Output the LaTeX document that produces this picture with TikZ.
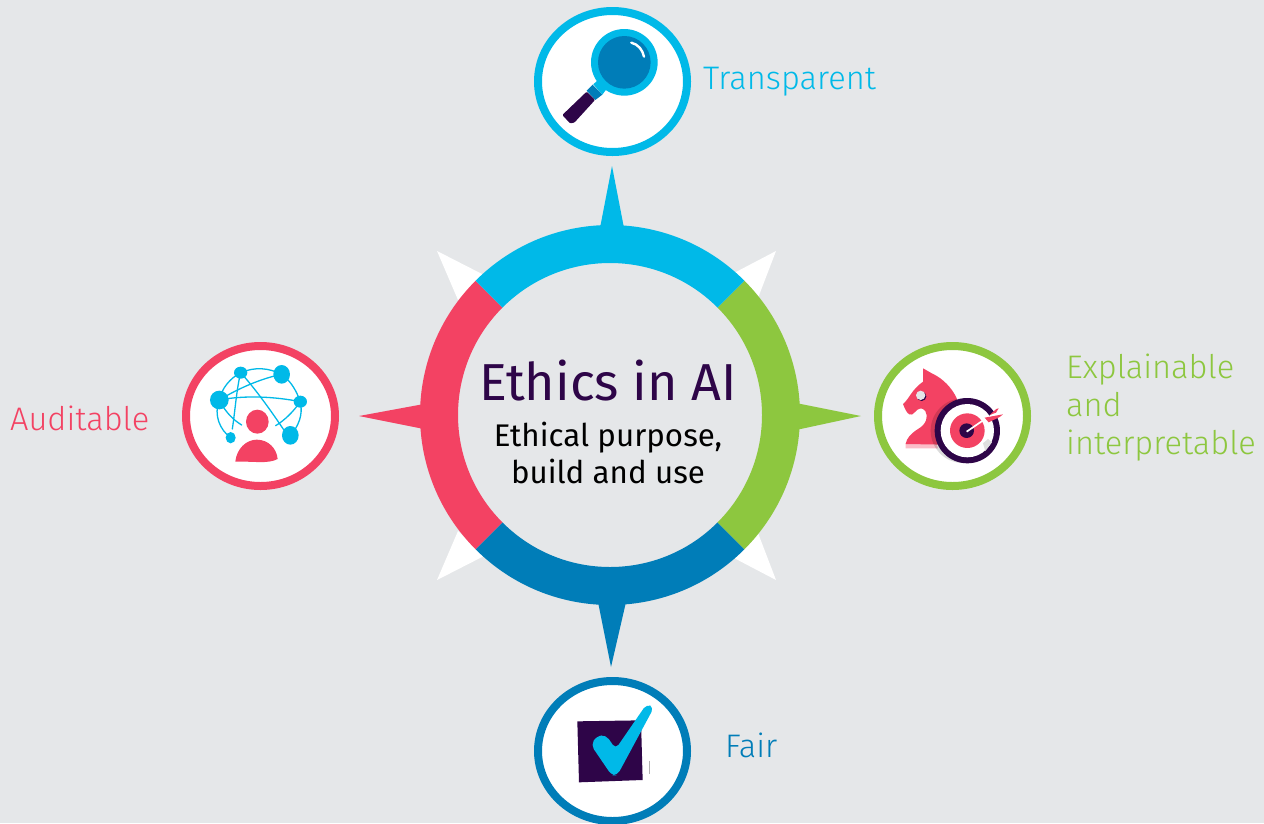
\documentclass[tikz,border=0pt]{standalone}
\usepackage{fontspec}
\setmainfont{Fira Sans}
\newfontfamily\lightf{Fira Sans Light}
\definecolor{bgc}{HTML}{E5E7E9}
\definecolor{cy}{HTML}{00B9E8}
\definecolor{pk}{HTML}{F34263}
\definecolor{gn}{HTML}{8DC73F}
\definecolor{bl}{HTML}{007DB8}
\definecolor{pu}{HTML}{2E0548}
\newcommand{\ringseg}[3]{\fill[#1,shift={(610,415)}] (#2:190) arc[start angle=#2,end angle=#3,radius=190] -- (#3:152) arc[start angle=#3,end angle=#2,radius=152] -- cycle;}
\tikzset{
  badge/.style={draw=#1,fill=white,line width=8pt},
  lab/.style={anchor=base west,inner sep=0pt,text=#1,font=\fontsize{32.6}{32.6}\selectfont\lightf},
  centertext/.style={anchor=base,inner sep=0pt,text=black,font=\fontsize{31.3}{31.3}\selectfont},
  net/.style={draw=cy,line width=1.3pt,line cap=round},
  whitespike/.style={fill=white}
}
\begin{document}
\begin{tikzpicture}[x=1pt,y=-1pt]
\useasboundingbox (0,0) rectangle (1264,823);
\fill[bgc] (0,0) rectangle (1264,823);
% white spikes
\fill[whitespike] (437,251) -- (484,275) -- (458,300) -- cycle;
\fill[whitespike] (776,251) -- (734,273) -- (758,298) -- cycle;
\fill[whitespike] (437,580) -- (484,556) -- (458,531) -- cycle;
\fill[whitespike] (776,580) -- (734,558) -- (758,533) -- cycle;
% coloured spikes
\fill[cy] (612,166) -- (600,228) -- (624,228) -- cycle;
\fill[bl] (611,667) -- (598,602) -- (626,602) -- cycle;
\fill[pk] (359,416) -- (424,404) -- (424,429) -- cycle;
\fill[gn] (861,416) -- (796,403) -- (796,430) -- cycle;
% ring (angles run clockwise on the page, y points down)
\ringseg{pk}{135}{225}
\ringseg{gn}{-45}{45}
\ringseg{bl}{45}{135}
\ringseg{cy}{225}{315}
% centre text
\node[anchor=base,inner sep=0pt,text=pu,font=\fontsize{52}{52}\selectfont] (title) at (608,400) {Ethics in AI};
\node[centertext] (sub1) at (608,446) {Ethical purpose,};
\node[centertext] (sub2) at (608,483) {build and use};
% badges
\draw[badge=cy] (612.5,81.5) ellipse[x radius=74.5,y radius=70.5];
\draw[badge=pk] (260.5,416) ellipse[x radius=74.5,y radius=70];
\draw[badge=gn] (952.5,416) ellipse[x radius=74.5,y radius=70];
\draw[badge=bl] (612.5,751) ellipse[x radius=74.5,y radius=70];
% labels
\node[lab=cy] (transparent) at (703,89) {Transparent};
\node[lab=pk] (auditable) at (10,430) {Auditable};
\node[lab=bl] (fair) at (725,757) {Fair};
\node[lab=gn] (expl1) at (1066,378) {Explainable};
\node[lab=gn] (expl2) at (1066,416) {and};
\node[lab=gn] (expl3) at (1066,454) {interpretable};
% magnifier
\begin{scope}[shift={(530,0)},x=0.3333pt,y=-0.3333pt]
\fill[cy] (190,253) -- (208,236) -- (232,264) -- (217,284) -- cycle;
\fill[bl] (170,272) -- (188,254) -- (217,284) -- (196,300) -- cycle;
\fill[pu,rounded corners=1pt] (97,345) -- (170,275) -- (195,300) -- (133,368) -- (120,370) -- cycle;
\fill[cy] (283,187) circle[radius=100];
\fill[bl] (283,187) circle[radius=79];
\draw[white,line width=2.4pt,line cap=round] (304,128) .. controls (325,133) and (338,150) .. (342,170);
\end{scope}
% network
\begin{scope}[shift={(175,335)},x=0.3333pt,y=-0.3333pt]
\draw[net] (197,113) .. controls (240,95) and (280,98) .. (320,118);
\draw[net] (320,118) .. controls (350,140) and (365,170) .. (376,200);
\draw[net] (376,200) .. controls (385,240) and (370,275) .. (346,301);
\draw[net] (133,195) .. controls (140,160) and (165,130) .. (197,113);
\draw[net] (133,195) .. controls (115,240) and (135,285) .. (167,308);
\draw[net] (197,113) .. controls (185,160) and (180,230) .. (172,282);
\draw[net] (133,195) .. controls (190,160) and (260,130) .. (320,118);
\draw[net] (133,195) .. controls (210,180) and (300,185) .. (376,200);
\draw[net] (197,113) .. controls (240,160) and (290,230) .. (330,290);
\draw[net] (133,195) .. controls (150,230) and (175,255) .. (200,270);
\draw[net] (376,200) .. controls (355,230) and (330,255) .. (302,272);
\fill[cy] (197,113) ellipse[x radius=20,y radius=18];
\fill[cy] (320,118) ellipse[x radius=25,y radius=28];
\fill[cy] (133,195) ellipse[x radius=28,y radius=28];
\fill[cy] (376,200) ellipse[x radius=20,y radius=18];
\fill[cy] (167,308) ellipse[x radius=15,y radius=17];
\fill[cy] (346,301) ellipse[x radius=25,y radius=28];
\fill[pk] (247,260) ellipse[x radius=34,y radius=36];
\fill[pk] (181,380) .. controls (185,340) and (215,314) .. (245,314) .. controls (280,314) and (305,340) .. (308,372) .. controls (280,388) and (230,378) .. (181,380) -- cycle;
\end{scope}
% knight and target
\begin{scope}[shift={(868,335)},x=0.3333pt,y=-0.3333pt]
\fill[pk!35] (113,325) -- (205,325) -- (210,340) -- (113,340) -- cycle;
\fill[pk] (165,100) .. controls (180,108) and (190,115) .. (205,122) .. controls (235,140) and (260,170) .. (270,200) -- (290,330) -- (113,327) .. controls (115,310) and (130,295) .. (150,282) .. controls (175,268) and (182,245) .. (172,228) .. controls (162,215) and (150,220) .. (140,232) .. controls (130,245) and (118,243) .. (105,207) .. controls (125,190) and (130,165) .. (165,140) -- cycle;
\fill[pu] (161,184) circle[radius=14];
\fill[bgc] (158,181) circle[radius=14];
\fill[black,opacity=.14] (285,287) circle[radius=97];
\fill[pu] (298,287) circle[radius=98];
\fill[white] (298,287) circle[radius=80];
\fill[gray!25] (345,325) -- (360,312) -- (372,322) -- (352,348) -- cycle;
\fill[pk] (298,287) circle[radius=52];
\fill[pu] (296,287) circle[radius=22];
\fill[white] (355,250) -- (384,226) -- (400,238) -- (365,258) -- cycle;
\draw[white,line width=1.7pt] (296,290) -- (360,246);
\fill[pk] (365,240) -- (385,222) -- (392,220) -- (384,233) -- cycle;
\fill[pk] (350,248) -- (405,238) -- (395,246) -- (362,262) -- cycle;
\end{scope}
% check box
\begin{scope}[shift={(530,670)},x=0.3333pt,y=-0.3333pt]
\fill[pu] (142,154) -- (333,151) -- (338,330) -- (147,337) -- cycle;
\draw[gray!60,line width=0.5pt] (358,272) -- (358,312);
\fill[cy,rounded corners=5pt] (183,225) -- (200,198) -- (228,195) -- (257,237) -- (350,102) -- (372,112) -- (262,316) -- (245,316) -- cycle;
\end{scope}
\end{tikzpicture}
\end{document}
